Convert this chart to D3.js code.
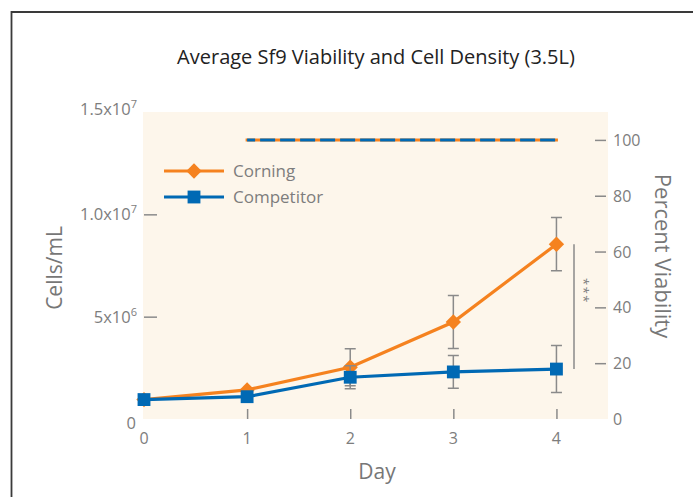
<!DOCTYPE html>
<html>
<head>
<meta charset="utf-8">
<script src="https://cdn.jsdelivr.net/npm/d3@7"></script>
<style>
body{margin:0;background:#fff;}
svg text{font-family:"Open Sans",sans-serif;}
</style>
</head>
<body>
<svg class="chart_density" width="693" height="497"></svg>
<script>
// data
var days=[0,1,2,3,4];
var corningDensity=[0.95e6,1.42e6,2.53e6,4.74e6,8.54e6];
var corningErr=[0,0,0.9e6,1.3e6,1.3e6];
var competitorDensity=[0.95e6,1.09e6,2.04e6,2.30e6,2.44e6];
var competitorErr=[0,0,0.56e6,0.8e6,1.15e6];
var viabilityDays=[1,2,3,4];
var corningViability=[100,100,100,100];
var competitorViability=[100,100,100,100];
var leftTicks=[0,5e6,1.0e7,1.5e7];
var leftTickLabels=[["0",""],["5x10","6"],["1.0x10","7"],["1.5x10","7"]];
var rightTicks=[0,20,40,60,80,100];
var seriesNames=["Corning","Competitor"];
var color=["#f5821f","#0069b4"];

var svgContainer=d3.select(".chart_density");
var width=+svgContainer.attr("width");
var height=+svgContainer.attr("height");

var plotLeft=144, plotRight=608, plotTop=112, plotBottom=419;
var x=d3.scaleLinear().domain([0,4.5]).range([plotLeft,plotRight]);
var yLeft=d3.scaleLinear().domain([0,1.5e7]).range([plotBottom,plotTop]);
var yRight=d3.scaleLinear().domain([0,110]).range([plotBottom,plotTop]);
var gray="#8a8a8a";
var labelGray="#7d7d7d";

// frame
svgContainer.append("path")
    .attr("d","M11.5,"+height+"V12H"+width)
    .attr("fill","none")
    .attr("stroke","#3a3a3a")
    .attr("stroke-width",1.8);

svgContainer.append("text")
    .attr("x",376).attr("y",64)
    .attr("text-anchor","middle")
    .attr("font-size",20)
    .attr("fill","#222")
    .text("Average Sf9 Viability and Cell Density (3.5L)");

svgContainer.append("rect")
    .attr("x",plotLeft-1)
    .attr("y",plotTop)
    .attr("width",plotRight-plotLeft+1)
    .attr("height",plotBottom-plotTop)
    .attr("fill","#fdf6eb");

// axes: ticks point into the plot, labels drawn separately
function styleAxis(g){
    g.select(".domain").remove();
    g.selectAll(".tick line").attr("stroke",gray).attr("stroke-width",1.5);
}
svgContainer.append("g")
    .attr("transform","translate("+plotLeft+",0)")
    .call(d3.axisLeft(yLeft).tickValues([5e6,1e7]).tickSize(-13).tickFormat(""))
    .call(styleAxis);
svgContainer.append("g")
    .attr("transform","translate(606,0)")
    .call(d3.axisRight(yRight).tickValues(rightTicks.slice(1)).tickSize(-11).tickFormat(""))
    .call(styleAxis);
svgContainer.append("g")
    .attr("transform","translate(0,"+plotBottom+")")
    .call(d3.axisBottom(x).tickValues(days.slice(1)).tickSize(-10).tickFormat(""))
    .call(styleAxis);

var leftLabels=svgContainer.append("g").selectAll("text")
    .data(leftTicks)
    .enter().append("text")
    .attr("x",function(d,i){return i==0 ? 136 : 137;})
    .attr("y",function(d,i){return i==3 ? 115 : i==0 ? 429 : yLeft(d)+6;})
    .attr("text-anchor","end")
    .attr("font-size",16.5)
    .attr("fill",labelGray);
leftLabels.append("tspan").text(function(d,i){return leftTickLabels[i][0];});
leftLabels.append("tspan")
    .attr("dy",-7)
    .attr("font-size",11)
    .text(function(d,i){return leftTickLabels[i][1];});

svgContainer.append("g").selectAll("text")
    .data(rightTicks)
    .enter().append("text")
    .attr("x",613)
    .attr("y",function(d){return yRight(d)+6;})
    .attr("font-size",16)
    .attr("fill",labelGray)
    .text(function(d){return d;});

svgContainer.append("g").selectAll("text")
    .data(days)
    .enter().append("text")
    .attr("x",function(d){return x(d);})
    .attr("y",444)
    .attr("text-anchor","middle")
    .attr("font-size",16)
    .attr("fill",labelGray)
    .text(function(d){return d;});

// axis titles
svgContainer.append("text")
    .attr("transform","translate(62,268) rotate(-90)")
    .attr("text-anchor","middle")
    .attr("font-size",21)
    .attr("fill","#777")
    .text("Cells/mL");
svgContainer.append("text")
    .attr("transform","translate(655,256) rotate(90)")
    .attr("text-anchor","middle")
    .attr("font-size",22)
    .attr("fill","#777")
    .text("Percent Viability");
svgContainer.append("text")
    .attr("x",377).attr("y",479)
    .attr("text-anchor","middle")
    .attr("font-size",21)
    .attr("fill","#777")
    .text("Day");

// viability lines (overlapping, at 100%)
var vLine=d3.line()
    .x(function(d,i){return x(viabilityDays[i]);})
    .y(function(d){return yRight(d);});
svgContainer.append("path")
    .datum(corningViability)
    .attr("d",vLine)
    .attr("fill","none")
    .attr("stroke",color[0])
    .attr("stroke-width",3)
    .attr("stroke-linecap","square");
svgContainer.append("path")
    .datum(competitorViability)
    .attr("d",vLine)
    .attr("fill","none")
    .attr("stroke",color[1])
    .attr("stroke-width",3)
    .attr("stroke-dasharray","15,5")
    .attr("stroke-dashoffset",7);

// density series
var diamond=d3.symbol().type(d3.symbolDiamond2).size(150)();
var square=d3.symbol().type(d3.symbolSquare2).size(210)();
var series=[
    {values:corningDensity,err:corningErr,mark:diamond},
    {values:competitorDensity,err:competitorErr,mark:square}
];
var dLine=d3.line()
    .x(function(d){return x(d.day);})
    .y(function(d){return yLeft(d.v);});

series.forEach(function(s,k){
    var pts=s.values.map(function(v,i){return {day:days[i],v:v,e:s.err[i]};});
    var g=svgContainer.append("g");
    g.selectAll(".err")
        .data(pts.filter(function(p){return p.e>0;}))
        .enter().append("path")
        .attr("class","err")
        .attr("d",function(p){
            var cx=x(p.day);
            var t=yLeft(p.v+p.e), b=yLeft(p.v-p.e);
            return "M"+(cx-5.5)+","+t+"H"+(cx+5.5)+"M"+cx+","+t+"V"+b+"M"+(cx-5.5)+","+b+"H"+(cx+5.5);
        })
        .attr("fill","none")
        .attr("stroke",gray)
        .attr("stroke-width",1.5);
    g.append("path")
        .datum(pts)
        .attr("d",dLine)
        .attr("fill","none")
        .attr("stroke",color[k])
        .attr("stroke-width",3.2);
    g.selectAll(".mark")
        .data(pts)
        .enter().append("path")
        .attr("class","mark")
        .attr("transform",function(p){return "translate("+x(p.day)+","+yLeft(p.v)+")";})
        .attr("d",s.mark)
        .attr("fill",color[k]);
});

// significance bracket
var d4=days.length-1;
svgContainer.append("line")
    .attr("x1",574).attr("x2",574)
    .attr("y1",yLeft(corningDensity[d4]))
    .attr("y2",yLeft(competitorDensity[d4]))
    .attr("stroke",gray).attr("stroke-width",1.5);
svgContainer.append("text")
    .attr("transform","translate(579,291) rotate(90)")
    .attr("text-anchor","middle")
    .attr("font-size",13)
    .attr("letter-spacing",1.5)
    .attr("fill","#808080")
    .text("***");

// legend
var legend=svgContainer.append("g");
seriesNames.forEach(function(name,k){
    var ly=171+k*26;
    legend.append("line")
        .attr("x1",164).attr("x2",224)
        .attr("y1",ly).attr("y2",ly)
        .attr("stroke",color[k]).attr("stroke-width",3.2);
    legend.append("path")
        .attr("transform","translate(194,"+ly+")")
        .attr("d",k==0 ? diamond : square)
        .attr("fill",color[k]);
    legend.append("text")
        .attr("x",233).attr("y",ly+6)
        .attr("font-size",17)
        .attr("fill",labelGray)
        .text(name);
});
</script>
</body>
</html>
